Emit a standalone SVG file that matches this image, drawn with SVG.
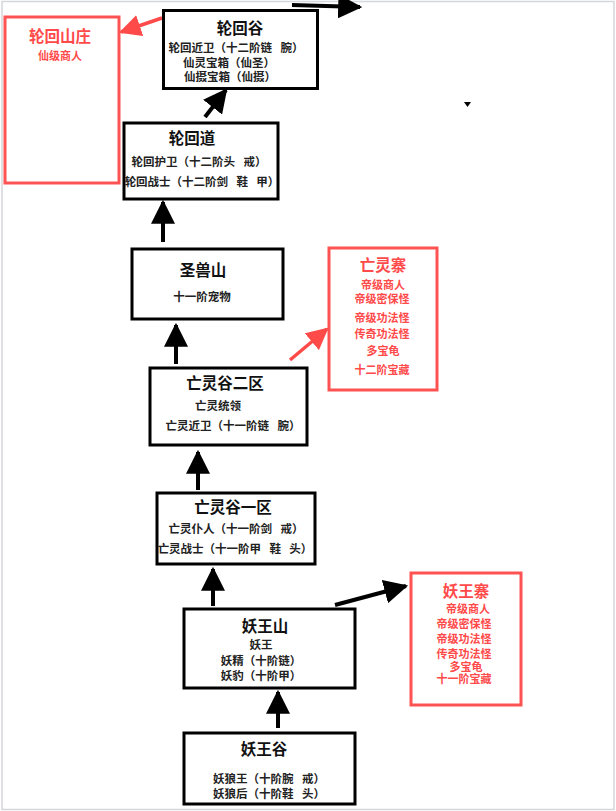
<svg xmlns="http://www.w3.org/2000/svg" width="616" height="811" viewBox="0 0 616 811">
<defs>
<style>
text{font-family:"Noto Sans CJK SC","Noto Sans",sans-serif;text-anchor:middle;white-space:pre}
.box{fill:#fff;stroke:#000;stroke-width:3}
.rbox{fill:#fff;stroke:#ff5252;stroke-width:3}
.t{font-size:15.5px;font-weight:bold;fill:#111}
.l{font-size:11.5px;font-weight:bold;fill:#222}
.rt{font-size:15.5px;font-weight:bold;fill:#ff4a4a}
.rl{font-size:11px;font-weight:bold;fill:#ff4a4a}
.a{stroke:#000;stroke-width:4;fill:none;marker-end:url(#ah)}
.ra{stroke:#ff4a4a;stroke-width:3.5;fill:none;marker-end:url(#rah)}
</style>
<marker id="ah" markerUnits="userSpaceOnUse" markerWidth="24" markerHeight="24" viewBox="0 0 22 22" refX="20" refY="11" orient="auto">
<path d="M0,0 L22,11 L0,22 z" fill="#000"/>
</marker>
<marker id="rah" markerUnits="userSpaceOnUse" markerWidth="22" markerHeight="22" viewBox="0 0 20 20" refX="18" refY="10" orient="auto">
<path d="M0,0 L20,10 L0,20 z" fill="#ff4a4a"/>
</marker>
</defs>
<rect x="0" y="0" width="616" height="811" fill="#fff"/>
<rect x="2" y="1.5" width="612" height="808" fill="none" stroke="#d4d6da" stroke-width="1.5"/>

<g id="connectors">
<path class="a" d="M205,117 L226,90"/>
<path class="a" d="M292,5 L360,7"/>
<path class="ra" d="M162,18 L121,32"/>
<path class="a" d="M163,242 L163,202"/>
<path class="a" d="M176,364 L176,325"/>
<path class="ra" d="M290,360 L327,329"/>
<path class="a" d="M198,490 L198,452"/>
<path class="a" d="M213,606 L213,569"/>
<path class="a" d="M335,605 L406,586"/>
<path class="a" d="M278,728 L278,692"/>
<path d="M464,102 L471,102 L467.5,107 z" fill="#000"/>
</g>

<g id="n-lunhuigu">
<rect class="box" x="163.5" y="10.5" width="154" height="78"/>
<text class="t" x="240" y="34">轮回谷</text>
<text class="l" x="236" y="52">轮回近卫（十二阶链&#8194; 腕）</text>
<text class="l" x="229" y="67">仙灵宝箱（仙圣）</text>
<text class="l" x="230" y="81">仙摄宝箱（仙摄）</text>
</g>

<g id="n-lunhuishanzhuang">
<rect class="rbox" x="5" y="17" width="114" height="166"/>
<text class="rt" x="60" y="42">轮回山庄</text>
<text class="rl" x="60" y="60">仙级商人</text>
</g>

<g id="n-lunhuidao">
<rect class="box" x="124" y="123" width="154" height="76"/>
<text class="t" x="192" y="144">轮回道</text>
<text class="l" x="199" y="166">轮回护卫（十二阶头&#8194; 戒）</text>
<text class="l" x="202" y="186">轮回战士（十二阶剑&#8194; 鞋&#8194; 甲）</text>
</g>

<g id="n-shengshoushan">
<rect class="box" x="132" y="249" width="151" height="70"/>
<text class="t" x="203" y="276">圣兽山</text>
<text class="l" x="202" y="301">十一阶宠物</text>
</g>

<g id="n-wanglingzhai">
<rect class="rbox" x="329" y="248" width="108" height="142"/>
<text class="rt" x="383" y="271">亡灵寨</text>
<text class="rl" x="383" y="289">帝级商人</text>
<text class="rl" x="382" y="303">帝级密保怪</text>
<text class="rl" x="382" y="322">帝级功法怪</text>
<text class="rl" x="382" y="338">传奇功法怪</text>
<text class="rl" x="383" y="355">多宝龟</text>
<text class="rl" x="382" y="374">十二阶宝藏</text>
</g>

<g id="n-wanglinggu2">
<rect class="box" x="150" y="368" width="157" height="77"/>
<text class="t" x="225" y="389">亡灵谷二区</text>
<text class="l" x="218" y="410">亡灵统领</text>
<text class="l" x="233" y="430">亡灵近卫（十一阶链&#8194; 腕）</text>
</g>

<g id="n-wanglinggu1">
<rect class="box" x="157" y="493" width="158" height="71"/>
<text class="t" x="233" y="513">亡灵谷一区</text>
<text class="l" x="236" y="533">亡灵仆人（十一阶剑&#8194; 戒）</text>
<text class="l" x="235" y="553">亡灵战士（十一阶甲&#8194; 鞋&#8194; 头）</text>
</g>

<g id="n-yaowangzhai">
<rect class="rbox" x="411" y="573" width="110" height="132"/>
<text class="rt" x="466" y="597">妖王寨</text>
<text class="rl" x="468" y="613">帝级商人</text>
<text class="rl" x="464" y="628">帝级密保怪</text>
<text class="rl" x="464" y="643">帝级功法怪</text>
<text class="rl" x="464" y="658">传奇功法怪</text>
<text class="rl" x="466" y="671">多宝龟</text>
<text class="rl" x="464" y="683">十一阶宝藏</text>
</g>

<g id="n-yaowangshan">
<rect class="box" x="184" y="609" width="171" height="79"/>
<text class="t" x="265" y="632">妖王山</text>
<text class="l" x="261" y="649">妖王</text>
<text class="l" x="261" y="665">妖精（十阶链）</text>
<text class="l" x="261" y="680">妖豹（十阶甲）</text>
</g>

<g id="n-yaowanggu">
<rect class="box" x="184" y="733" width="171" height="71"/>
<text class="t" x="264" y="755">妖王谷</text>
<text class="l" x="269" y="783">妖狼王（十阶腕&#8194; 戒）</text>
<text class="l" x="269" y="798">妖狼后（十阶鞋&#8194; 头）</text>
</g>
</svg>
